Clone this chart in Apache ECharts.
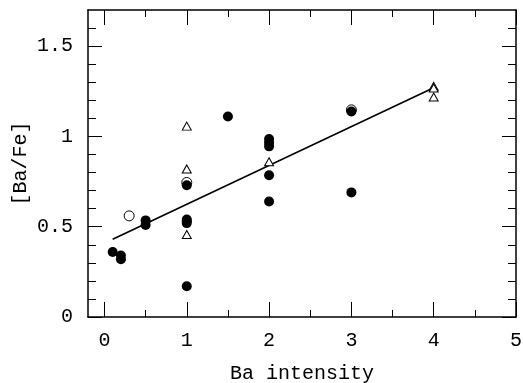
<!DOCTYPE html>
<html>
<head>
<meta charset="utf-8">
<script src="https://cdn.jsdelivr.net/npm/echarts@6/dist/echarts.min.js"></script>
<style>html,body{margin:0;padding:0;background:#fff}#c{width:523px;height:383px}</style>
</head>
<body>
<div id="c"></div>
<script>
// Data
const filledX = [0.1, 0.2, 0.2, 0.5, 0.5, 1, 1, 1, 1, 1, 1.5, 2, 2, 2, 2, 2, 3, 3];
const filledY = [0.36, 0.34, 0.32, 0.535, 0.51, 0.73, 0.54, 0.53, 0.52, 0.17, 1.11, 0.985, 0.965, 0.945, 0.785, 0.64, 1.138, 0.69];
const openX = [0.3, 1, 3];
const openY = [0.56, 0.745, 1.147];
const triX = [1, 1, 1, 2, 4, 4, 4];
const triY = [1.057, 0.82, 0.457, 0.86, 1.277, 1.268, 1.218];
const fitX = [0.1, 4];
const fitY = [0.43, 1.27];
const xMajor = [0, 1, 2, 3, 4, 5];
const xMinor = [0.5, 1.5, 2.5, 3.5, 4.5];
const yMajor = [0, 0.5, 1, 1.5];
const yMinor = [0.1, 0.2, 0.3, 0.4, 0.6, 0.7, 0.8, 0.9, 1.1, 1.2, 1.3, 1.4, 1.6];
const xTitle = 'Ba intensity';
const yTitle = '[Ba/Fe]';

const FONT = 'Liberation Mono';
const zip = (a, b) => a.map((v, i) => [v, b[i]]);
const X_MIN = -0.2, X_MAX = 5, Y_MIN = 0, Y_MAX = 1.7;

function xAx(pos, vals, len, withLine, withLabel) {
  return {
    type: 'value', position: pos, min: X_MIN, max: X_MAX,
    splitLine: { show: false },
    axisLine: { show: withLine, onZero: false, lineStyle: { color: '#000', width: 1.5 } },
    axisTick: { show: true, inside: true, length: len, customValues: vals, lineStyle: { color: '#000', width: 1 } },
    axisLabel: withLabel ? { show: true, customValues: xMajor, margin: 14, color: '#000', fontFamily: FONT, fontSize: 20 } : { show: false },
    name: withLabel ? xTitle : '', nameLocation: 'middle', nameGap: 47, nameMoveOverlap: false,
    nameTextStyle: { color: '#000', fontFamily: FONT, fontSize: 20 }
  };
}
function yAx(pos, vals, len, withLine, withLabel) {
  return {
    type: 'value', position: pos, min: Y_MIN, max: Y_MAX,
    splitLine: { show: false },
    axisLine: { show: withLine, onZero: false, lineStyle: { color: '#000', width: 1.5 } },
    axisTick: { show: true, inside: true, length: len, customValues: vals, lineStyle: { color: '#000', width: 1 } },
    axisLabel: withLabel ? { show: true, customValues: yMajor, margin: 15, color: '#000', fontFamily: FONT, fontSize: 20 } : { show: false },
    name: withLabel ? yTitle : '', nameLocation: 'middle', nameGap: 57, nameRotate: 90, nameMoveOverlap: false,
    nameTextStyle: { color: '#000', fontFamily: FONT, fontSize: 20 }
  };
}

const chart = echarts.init(document.getElementById('c'), null, { renderer: 'canvas' });
chart.setOption({
  animation: false,
  backgroundColor: '#fff',
  grid: { left: 88, right: 7, top: 10, bottom: 66, containLabel: false, outerBoundsMode: 'none' },
  xAxis: [
    xAx('bottom', xMajor, 15, true, true),
    xAx('bottom', xMinor, 7, false, false),
    xAx('top', xMajor, 15, true, false),
    xAx('top', xMinor, 7, false, false)
  ],
  yAxis: [
    yAx('left', yMajor, 14, true, true),
    yAx('left', yMinor, 8, false, false),
    yAx('right', yMajor, 14, true, false),
    yAx('right', yMinor, 8, false, false)
  ],
  series: [
    { type: 'line', data: zip(fitX, fitY), showSymbol: false, symbol: 'none',
      lineStyle: { color: '#000', width: 1.6 }, z: 2 },
    { type: 'scatter', data: zip(filledX, filledY), symbol: 'circle', symbolSize: 10,
      itemStyle: { color: '#000', opacity: 1 }, z: 4 },
    { type: 'scatter', data: zip(openX, openY), symbol: 'circle', symbolSize: 10,
      itemStyle: { color: 'transparent', borderColor: '#000', borderWidth: 1, opacity: 1 }, z: 5 },
    { type: 'scatter', data: zip(triX, triY), symbol: 'triangle', symbolSize: [9, 8],
      itemStyle: { color: '#fff', borderColor: '#000', borderWidth: 1, opacity: 1 }, z: 3 }
  ]
});
</script>
</body>
</html>
